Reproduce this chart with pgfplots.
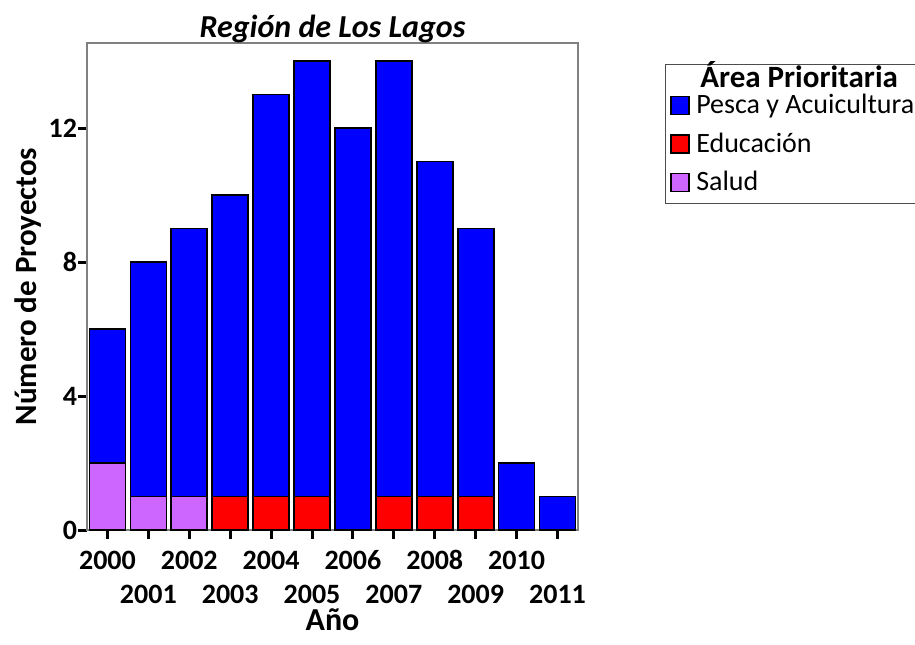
\documentclass[border=0pt]{standalone}
\usepackage{fontspec}
\setmainfont{Carlito}
\usepackage{pgfplots}
\pgfplotsset{compat=1.18}
\definecolor{pesca}{RGB}{0,0,255}
\definecolor{educ}{RGB}{255,0,0}
\definecolor{salud}{RGB}{204,102,255}
\pgfplotsset{sq/.style={legend image code/.code={\draw[##1, line width=0.6pt] (0pt,-4.5pt) rectangle (9pt,4.5pt);}}}
\begin{document}
\begin{tikzpicture}
\path[use as bounding box] (0,0) rectangle (457.5pt,322pt);
\draw[black!70, line width=0.5pt, fill=white] (332.5pt,289.5pt) rectangle (470pt,220.5pt);
\node[anchor=base west, inner sep=0pt, font=\fontsize{15.5}{17}\selectfont\bfseries] at (350pt,278pt) {Área Prioritaria};
\begin{axis}[
  at={(43.5pt,57pt)}, anchor=south west,
  scale only axis, width=245.5pt, height=243.5pt,
  ybar stacked, bar width=0.88,
  xmin=1999.5, xmax=2011.5, ymin=0, ymax=14.54,
  xtick={2000,...,2011}, ytick={0,4,8,12},
  tick align=outside, tick pos=left, major tick length=4.5pt,
  tick style={black, line width=1.5pt},
  axis line style={black!50, line width=0.6pt},
  /pgf/number format/assume math mode=true,
  /pgf/number format/1000 sep={},
  ticklabel style={font=\fontsize{14}{16}\selectfont\bfseries},
  xticklabel style={yshift=-2pt, text height=9.5pt, text depth=0pt, anchor=north},
  yticklabel style={xshift=3pt},
  xticklabel={\ifodd\ticknum\relax\raisebox{-17pt}[\height][0pt]{\pgfmathprintnumber[fixed,1000 sep={}]{\tick}}\else\pgfmathprintnumber[fixed,1000 sep={}]{\tick}\fi},
  yticklabel={\pgfmathprintnumber{\tick}},
  title={Región de Los Lagos},
  title style={font=\fontsize{16}{19}\selectfont\bfseries\itshape, at={(axis description cs:0.5,1)}, anchor=base, yshift=-3pt},
  xlabel={Año},
  xlabel style={font=\fontsize{16}{19}\selectfont\bfseries, at={(axis description cs:0.5,0)}, anchor=center, yshift=-45pt},
  ylabel={Número de Proyectos},
  ylabel style={font=\fontsize{15.5}{18}\selectfont\bfseries, at={(axis description cs:-0.120,0.5)}, anchor=center, rotate=0},
  reverse legend,
  legend cell align=left,
  legend style={at={(rel axis cs:1.1874,0.8994)}, anchor=north west, draw=none, fill=none,
    font=\fontsize{14}{16}\selectfont, row sep=6pt, inner xsep=0pt, inner ysep=0pt, nodes={inner sep=1pt}},
]
\addplot[fill=salud, draw=black, line width=0.8pt, sq] coordinates {
(2000,2) (2001,1) (2002,1) (2003,0) (2004,0) (2005,0) (2006,0) (2007,0) (2008,0) (2009,0) (2010,0) (2011,0)};
\addlegendentry{\,Salud}
\addplot[fill=educ, draw=black, line width=0.8pt, sq] coordinates {
(2000,0) (2001,0) (2002,0) (2003,1) (2004,1) (2005,1) (2006,0) (2007,1) (2008,1) (2009,1) (2010,0) (2011,0)};
\addlegendentry{\,Educación}
\addplot[fill=pesca, draw=black, line width=0.8pt, sq] coordinates {
(2000,4) (2001,7) (2002,8) (2003,9) (2004,12) (2005,13) (2006,12) (2007,13) (2008,10) (2009,8) (2010,2) (2011,1)};
\addlegendentry{\,Pesca y Acuicultura}
\end{axis}
\end{tikzpicture}
\end{document}
